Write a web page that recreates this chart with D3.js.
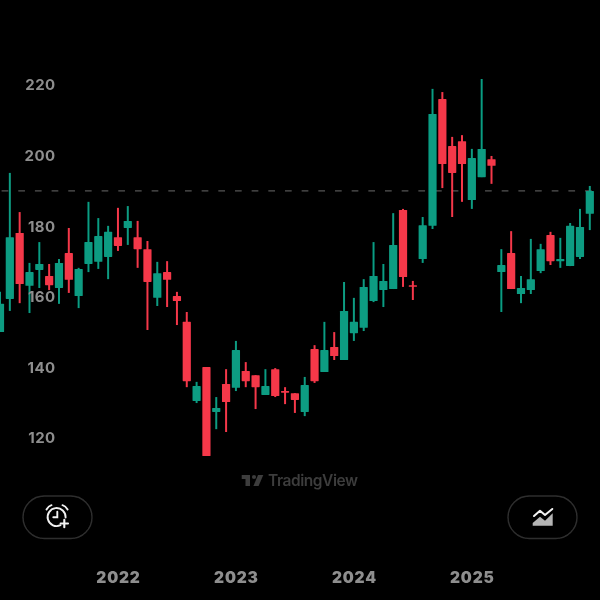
<!DOCTYPE html>
<html>
<head>
<meta charset="utf-8">
<script src="https://cdn.jsdelivr.net/npm/d3@7"></script>
<style>
html,body{margin:0;padding:0;background:#000;overflow:hidden}
svg{display:block}
</style>
</head>
<body>
<div id="chart"></div>
<script>
const months = [
"2021-01","2021-02","2021-03","2021-04","2021-05","2021-06","2021-07","2021-08","2021-09","2021-10","2021-11","2021-12",
"2022-01","2022-02","2022-03","2022-04","2022-05","2022-06","2022-07","2022-08","2022-09","2022-10","2022-11","2022-12",
"2023-01","2023-02","2023-03","2023-04","2023-05","2023-06","2023-07","2023-08","2023-09","2023-10","2023-11","2023-12",
"2024-01","2024-02","2024-03","2024-04","2024-05","2024-06","2024-07","2024-08","2024-09","2024-10","2024-11","2024-12",
"2025-01","2025-02","2025-03","2025-04","2025-05","2025-06","2025-07","2025-08","2025-09","2025-10","2025-11","2025-12",
"2026-01"];
const open = [150.0,159.4,178.1,163.1,167.6,165.9,162.5,172.4,160.2,169.3,169.9,171.3,
176.9,179.5,176.9,173.5,159.7,167.0,160.2,152.9,130.5,140.1,127.4,135.3,
134.2,139.0,137.8,132.2,139.5,133.3,132.7,127.4,145.2,138.7,145.8,142.1,
149.7,151.2,158.8,161.9,162.2,184.6,163.3,170.7,180.1,216.0,202.7,204.1,
187.4,193.9,199.0,167.0,172.4,160.8,161.9,167.3,177.5,170.1,168.7,171.3,183.5];
const high = [161.4,195.1,184.0,169.6,175.5,169.3,170.7,179.5,168.2,186.9,182.3,180.1,
185.2,185.7,181.5,175.8,169.9,170.1,161.4,155.7,135.9,140.1,131.6,139.5,
147.5,141.5,137.8,139.5,139.8,134.4,132.7,137.3,146.3,152.9,150.0,164.2,
159.7,165.0,175.5,169.3,183.7,184.9,164.5,182.6,218.9,218.0,205.3,205.8,
201.9,221.7,199.9,173.5,178.6,165.9,176.4,175.0,178.4,176.7,180.9,184.9,191.4];
const low = [150.0,156.0,158.2,155.4,162.5,161.9,158.0,161.1,156.8,167.0,167.9,165.0,
173.0,174.7,168.2,150.6,157.4,157.1,152.0,134.4,129.9,114.9,122.5,121.7,
133.3,134.4,128.2,132.2,131.6,129.6,127.1,126.2,135.6,138.7,142.1,142.1,
147.5,150.3,158.5,157.1,162.2,162.8,159.1,169.6,179.2,190.8,182.6,186.9,
184.9,193.9,192.0,155.7,162.2,158.2,160.8,166.7,169.0,168.2,168.7,170.7,178.9];
const close = [158.0,176.9,163.6,167.0,169.3,163.3,169.6,164.8,167.9,175.5,177.2,178.4,
174.4,181.5,173.5,164.2,166.7,164.8,158.8,136.1,134.7,114.9,128.5,130.2,
144.9,136.1,134.4,134.7,131.9,133.0,130.8,135.0,136.1,144.9,143.2,156.0,
152.9,162.8,165.9,164.5,174.7,165.6,163.1,180.3,211.8,197.6,195.1,197.6,
199.3,201.9,197.1,169.0,162.2,162.5,165.0,173.5,170.1,170.7,180.1,179.8,190.0];
const priceTicks = [120,140,160,180,200,220];
const yearTicks = ["2022-01","2023-01","2024-01","2025-01"];
const lastPrice = 190;

const UP = "#0a9c82", DOWN = "#f5374a", TEXT = "#8e8e8e";

const svg = d3.select("#chart").append("svg").attr("width",600).attr("height",600);
svg.append("rect").attr("width",600).attr("height",600).attr("fill","#000");
const defs = svg.append("defs");
defs.append("filter").attr("id","soft").attr("x","-5%").attr("y","-5%").attr("width","110%").attr("height","110%")
  .append("feGaussianBlur").attr("stdDeviation",0.5);

const root = svg.append("g").attr("filter","url(#soft)");

const x = d3.scalePoint().domain(months).range([0,589.8]);
const y = d3.scaleLinear().domain([120,220]).range([438,85]);
const candles = months.map((m,i)=>({m,o:open[i],h:high[i],l:low[i],c:close[i]}));
const col = d => d.c >= d.o ? UP : DOWN;

root.append("line").attr("x1",1.6).attr("x2",600).attr("y1",y(lastPrice)).attr("y2",y(lastPrice))
  .attr("stroke","#565656").attr("stroke-width",1.2).attr("stroke-dasharray","6.7 9.97");

const g = root.append("g");
g.selectAll("line.wick").data(candles).join("line").attr("class","wick")
  .attr("x1",d=>x(d.m)).attr("x2",d=>x(d.m)).attr("y1",d=>y(d.h)).attr("y2",d=>y(d.l))
  .attr("stroke",col).attr("stroke-width",2);
g.selectAll("rect.body").data(candles).join("rect").attr("class","body")
  .attr("x",d=>x(d.m)-4.1).attr("width",8.2)
  .attr("y",d=>y(Math.max(d.o,d.c)))
  .attr("height",d=>Math.max(1.6,Math.abs(y(d.o)-y(d.c))))
  .attr("rx",0.6).attr("fill",col);

const yAxis = root.append("g").attr("transform","translate(55.5,0)")
  .call(d3.axisLeft(y).tickValues(priceTicks).tickSize(0).tickPadding(0));
yAxis.select(".domain").remove();
yAxis.selectAll("text").attr("fill",TEXT).attr("font-family","Inter").attr("font-weight",700)
  .attr("font-size",15).attr("letter-spacing",0.4);

const xAxis = root.append("g").attr("transform","translate(0,572)")
  .call(d3.axisBottom(x).tickValues(yearTicks).tickFormat(d=>d.slice(0,4)).tickSize(0).tickPadding(0));
xAxis.select(".domain").remove();
xAxis.selectAll("text").attr("fill",TEXT).attr("font-family","Inter").attr("font-weight",900)
  .attr("font-size",15.5).attr("letter-spacing",0.8);

// watermark
const wm = root.append("g").attr("fill","#3c3c3c");
wm.append("path").attr("d","M241.7 475H250V486H245.5V479H241.7Z");
wm.append("circle").attr("cx",254).attr("cy",477).attr("r",2.1);
wm.append("path").attr("d","M258 475H263.3L258.6 486H253.4Z");
wm.append("text").attr("x",268).attr("y",486).attr("font-family","Inter").attr("font-weight",600)
  .attr("font-size",15.5).attr("textLength",90).text("TradingView");

// buttons
const btn = root.append("g").attr("fill","none").attr("stroke","#2e2e2e").attr("stroke-width",1.4);
btn.append("rect").attr("x",23).attr("y",496).attr("width",69).attr("height",42.5).attr("rx",21.2);
btn.append("rect").attr("x",508).attr("y",496).attr("width",69).attr("height",42.5).attr("rx",21.2);

// alarm icon
const alarm = root.append("g").attr("fill","none").attr("stroke","#f2f2f2").attr("stroke-width",1.9).attr("stroke-linecap","round");
alarm.append("path").attr("d","M60.5 525.2A9 9 0 1 1 65.6 517.5");
alarm.append("path").attr("d","M57.3 511.7V517.3H53.3");
alarm.append("path").attr("d","M46.5 509.5Q48.5 506 51.5 505.2");
alarm.append("path").attr("d","M62.5 505.2Q65.5 506 67.6 509.5");
alarm.append("path").attr("d","M64.3 519.8V527.2M60.6 523.5H68").attr("stroke-width",2.1);

// area icon
root.append("path").attr("d","M532.7 525.7V523L540 516.7L545 520.7L552.7 513.3V525.7Z").attr("fill","#b5b5b5");
root.append("path").attr("d","M534 516L540 510.7L545 515L552.3 509").attr("fill","none").attr("stroke","#f2f2f2")
  .attr("stroke-width",2).attr("stroke-linecap","round").attr("stroke-linejoin","round");
</script>
</body>
</html>
